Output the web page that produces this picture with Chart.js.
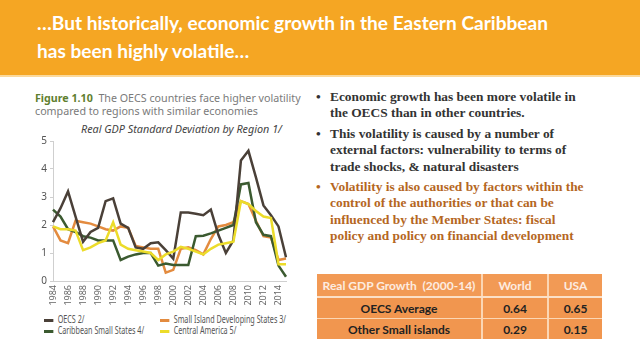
<!DOCTYPE html>
<html>
<head>
<meta charset="utf-8">
<script src="https://cdn.jsdelivr.net/npm/chart.js@4/dist/chart.umd.min.js"></script>
<style>
  body { margin: 0; width: 640px; height: 360px; background: #fff; overflow: hidden; position: relative; font-family: "Noto Sans", sans-serif; }
  .abs { position: absolute; }
  #header { left: 0; top: 0; width: 640px; height: 75px; background: #f5a623; border-bottom: 2px solid #fbd99b; }
  #header div { position: absolute; left: 37px; color: #fff; font-family: Lato, sans-serif; font-weight: bold; font-size: 19.1px; white-space: nowrap; }
  #caption { left: 35px; top: 92px; font-size: 10.7px; line-height: 13px; color: #7a7a7a; white-space: nowrap; }
  #caption b { color: #5f7f2f; }
  #ctitle { left: 81px; top: 121px; font-size: 10.8px; font-style: italic; color: #444; white-space: nowrap; }
  #legend { left: 44px; top: 312px; width: 260px; font-size: 10px; color: #555; }
  #legend .it { position: absolute; white-space: nowrap; transform: scaleX(0.72); transform-origin: 0 50%; }
  #legend .mk { display: inline-block; width: 13px; height: 2.5px; vertical-align: middle; margin-right: 6px; }
  #bullets { left: 316px; top: 89px; width: 320px; font-family: "Liberation Serif", serif; font-weight: bold; font-size: 13.4px; line-height: 16.4px; color: #333; white-space: nowrap; }
  #bullets p { margin: 0 0 4px 0; padding-left: 14px; position: relative; }
  #bullets p::before { content: "\2022"; position: absolute; left: 0; }
  #bullets p.hl { color: #b5671f; }
  table { position: absolute; left: 317px; top: 274px; width: 285px; border-collapse: collapse; font-family: Lato, sans-serif; font-weight: bold; font-size: 12px; }
  td { background: #f1964f; text-align: center; padding: 0; border-left: 2px solid #fbd6b4; color: #222; height: 20px; }
  td:first-child { border-left: none; }
  tr.h td { color: #fdece0; height: 22px; border-bottom: 2px solid #fbe0c8; background: #f29a55; }
  tr.r1 td { border-bottom: 1px solid #fbd6b4; }
</style>
</head>
<body>
<div id="header" class="abs">
  <div style="top:11px">…But historically, economic growth in the Eastern Caribbean</div>
  <div style="top:39px">has been highly volatile…</div>
</div>
<div id="caption" class="abs"><b>Figure 1.10</b>&nbsp; The OECS countries face higher volatility<br>compared to regions with similar economies</div>
<div id="ctitle" class="abs">Real GDP Standard Deviation by Region 1/</div>
<canvas id="grafico" class="abs" style="left:0;top:120px" width="310" height="190"></canvas>
<div id="legend" class="abs"></div>
<div id="bullets" class="abs">
  <p>Economic growth has been more volatile in<br>the OECS than in other countries.</p>
  <p>This volatility is caused by a number of<br>external factors: vulnerability to terms of<br>trade shocks, &amp; natural disasters</p>
  <p class="hl">Volatility is also caused by factors within the<br>control of the authorities or that can be<br>influenced by the Member States: fiscal<br>policy and policy on financial development</p>
</div>
<table id="tabla"></table>
<script>
const anios = ["1984","1985","1986","1987","1988","1989","1990","1991","1992","1993","1994","1995","1996","1997","1998","1999",
  "2000","2001","2002","2003","2004","2005","2006","2007","2008","2009","2010","2011","2012","2013","2014","2015"];

const oecs = [2.1,2.6,3.2,2.3,1.4,1.75,1.9,2.85,2.95,2.05,1.9,1.2,1.15,1.35,1.38,1.1,
  0.8,2.45,2.45,2.4,2.35,2.55,1.65,1.0,1.45,4.3,4.65,3.7,2.7,2.35,1.95,0.85];
const sids = [1.95,1.45,1.35,2.15,2.1,2.05,1.95,1.85,1.8,1.95,1.9,1.25,1.2,1.15,1.15,0.3,
  0.4,1.15,1.2,1.1,0.95,1.5,1.95,2.0,2.1,2.85,2.75,2.15,1.6,1.55,0.75,0.8];
const caribe = [2.55,2.3,1.85,1.75,1.6,1.55,1.45,1.45,1.45,0.75,0.87,0.95,1.0,1.0,0.55,0.62,
  0.57,0.57,0.57,1.6,1.62,1.7,1.8,1.9,2.0,3.45,3.5,2.1,1.65,1.6,0.55,0.15];
const centroamerica = [1.95,1.85,1.85,1.8,1.1,1.2,1.35,1.45,2.1,1.3,1.15,1.1,1.05,1.0,0.75,0.95,
  1.05,1.22,1.15,1.05,0.95,1.15,1.3,1.35,1.4,2.85,2.75,2.5,2.3,2.25,0.6,0.6];

const nombres = ["OECS 2/","Small Island Developing States 3/","Caribbean Small States 4/","Central America 5/"];
const colores = ["#4a4038","#e38b3f","#3b5a30","#ecdc2a"];

const tablaCols = ["Real GDP Growth  (2000-14)","World","USA"];
const tablaFilas = ["OECS Average","Other Small islands"];
const tablaWorld = ["0.64","0.29"];
const tablaUSA = ["0.65","0.15"];

// tabla
let html = `<tr class="h"><td style="width:164px;white-space:pre">${tablaCols[0]}</td><td style="width:64px">${tablaCols[1]}</td><td>${tablaCols[2]}</td></tr>`;
tablaFilas.forEach((f, i) => {
  html += `<tr class="r${i + 1}"><td>${f}</td><td>${tablaWorld[i]}</td><td>${tablaUSA[i]}</td></tr>`;
});
document.getElementById("tabla").innerHTML = html;

// leyenda en dos columnas
const posLeyenda = [[0, 0], [116, 0], [0, 11], [116, 11]];
let leyenda = "";
nombres.forEach((n, i) => {
  leyenda += `<div class="it" style="left:${posLeyenda[i][0]}px;top:${posLeyenda[i][1]}px"><span class="mk" style="background:${colores[i]}"></span>${n}</div>`;
});
document.getElementById("legend").innerHTML = leyenda;

const series = [oecs, sids, caribe, centroamerica];
const orden = [1, 3, 2, 0];
const datasets = series.map((d, i) => ({
  label: nombres[i],
  data: d,
  borderColor: colores[i],
  borderWidth: 2.5,
  pointRadius: 0,
  tension: 0,
  order: orden[i],
}));

const config = {
  type: "line",
  data: { labels: anios, datasets },
  options: {
    responsive: false,
    animation: false,
    layout: { padding: { left: 0, right: 24, top: 21, bottom: 0 } },
    plugins: { legend: { display: false }, tooltip: { enabled: false } },
    scales: {
      x: {
        offset: false,
        grid: { display: false, drawTicks: false },
        border: { color: "#cfcfcf" },
        ticks: {
          autoSkip: false,
          minRotation: 90,
          maxRotation: 90,
          padding: 4,
          color: "#666",
          font: { family: "Noto Sans", size: 9 },
          callback: (v, i) => (i % 2 === 0 ? anios[i] : ""),
        },
        afterFit: (s) => { s.height = 29; },
      },
      y: {
        min: 0,
        max: 5,
        grid: { drawOnChartArea: false, tickLength: 3, color: "#cfcfcf" },
        border: { color: "#cfcfcf" },
        ticks: { stepSize: 1, color: "#555", padding: 3, font: { family: "Noto Sans", size: 10 } },
        afterFit: (s) => { s.width = 53; },
      },
    },
  },
};

new Chart(document.getElementById("grafico"), config);
</script>
</body>
</html>
